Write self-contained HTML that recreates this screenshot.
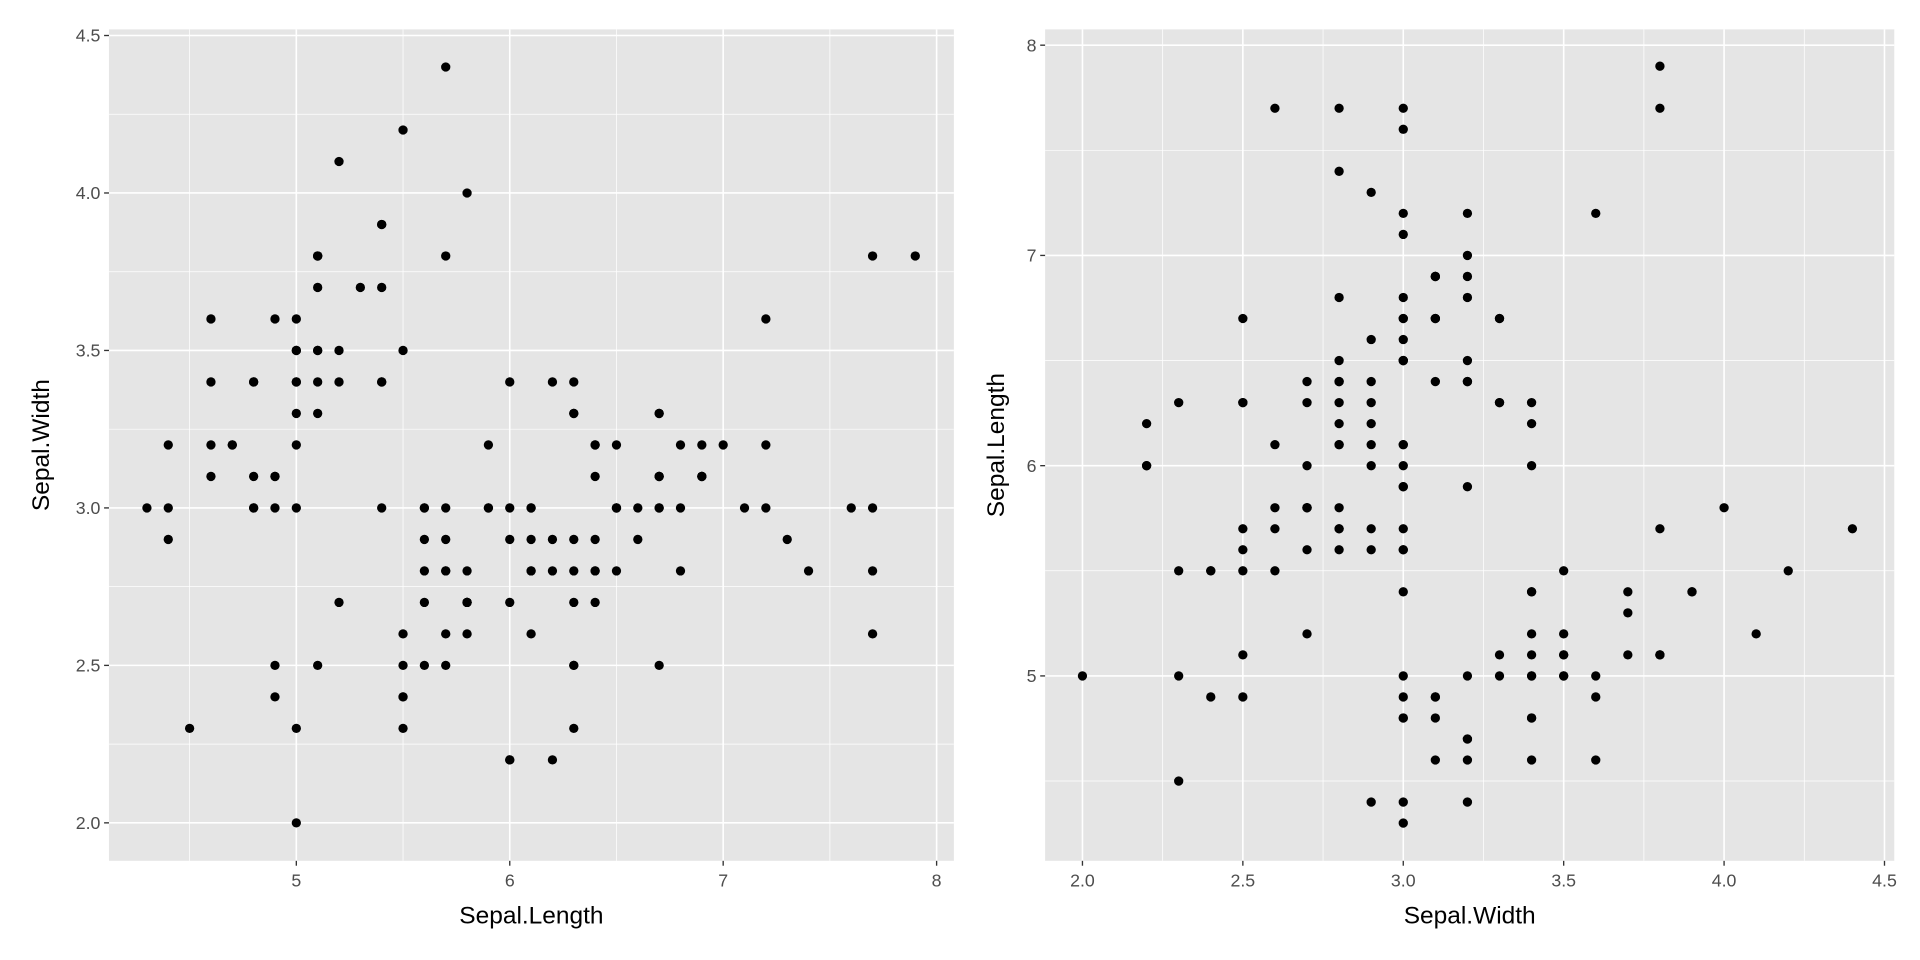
<!DOCTYPE html>
<html><head><meta charset="utf-8"><style>html,body{margin:0;padding:0;background:#fff}svg{display:block}text{font-family:"Liberation Sans",sans-serif}</style></head>
<body>
<svg id="s" width="1920" height="960" viewBox="0 0 1568 784" xmlns="http://www.w3.org/2000/svg"></svg>
<script>
const d="5.1,3.5;4.9,3.0;4.7,3.2;4.6,3.1;5.0,3.6;5.4,3.9;4.6,3.4;5.0,3.4;4.4,2.9;4.9,3.1;5.4,3.7;4.8,3.4;4.8,3.0;4.3,3.0;5.8,4.0;5.7,4.4;5.4,3.9;5.1,3.5;5.7,3.8;5.1,3.8;5.4,3.4;5.1,3.7;4.6,3.6;5.1,3.3;4.8,3.4;5.0,3.0;5.0,3.4;5.2,3.5;5.2,3.4;4.7,3.2;4.8,3.1;5.4,3.4;5.2,4.1;5.5,4.2;4.9,3.1;5.0,3.2;5.5,3.5;4.9,3.6;4.4,3.0;5.1,3.4;5.0,3.5;4.5,2.3;4.4,3.2;5.0,3.5;5.1,3.8;4.8,3.0;5.1,3.8;4.6,3.2;5.3,3.7;5.0,3.3;7.0,3.2;6.4,3.2;6.9,3.1;5.5,2.3;6.5,2.8;5.7,2.8;6.3,3.3;4.9,2.4;6.6,2.9;5.2,2.7;5.0,2.0;5.9,3.0;6.0,2.2;6.1,2.9;5.6,2.9;6.7,3.1;5.6,3.0;5.8,2.7;6.2,2.2;5.6,2.5;5.9,3.2;6.1,2.8;6.3,2.5;6.1,2.8;6.4,2.9;6.6,3.0;6.8,2.8;6.7,3.0;6.0,2.9;5.7,2.6;5.5,2.4;5.5,2.4;5.8,2.7;6.0,2.7;5.4,3.0;6.0,3.4;6.7,3.1;6.3,2.3;5.6,3.0;5.5,2.5;5.5,2.6;6.1,3.0;5.8,2.6;5.0,2.3;5.6,2.7;5.7,3.0;5.7,2.9;6.2,2.9;5.1,2.5;5.7,2.8;6.3,3.3;5.8,2.7;7.1,3.0;6.3,2.9;6.5,3.0;7.6,3.0;4.9,2.5;7.3,2.9;6.7,2.5;7.2,3.6;6.5,3.2;6.4,2.7;6.8,3.0;5.7,2.5;5.8,2.8;6.4,3.2;6.5,3.0;7.7,3.8;7.7,2.6;6.0,2.2;6.9,3.2;5.6,2.8;7.7,2.8;6.3,2.7;6.7,3.3;7.2,3.2;6.2,2.8;6.1,3.0;6.4,2.8;7.2,3.0;7.4,2.8;7.9,3.8;6.4,2.8;6.3,2.8;6.1,2.6;7.7,3.0;6.3,3.4;6.4,3.1;6.0,3.0;6.9,3.1;6.7,3.1;6.9,3.1;5.8,2.7;6.8,3.2;6.7,3.3;6.7,3.0;6.3,2.5;6.5,3.0;6.2,3.4;5.9,3.0".split(";").map(p=>p.split(",").map(Number));
let o="";
function panel(P){
 const X=v=>P.x0+(v-P.xa)*P.xs, Y=v=>P.y0-(v-P.ya)*P.ys;
 o+=`<rect x="${P.L}" y="24" width="${P.R-P.L}" height="${703-24}" fill="#e5e5e5"/>`;
 P.xmin.forEach(v=>o+=`<line x1="${X(v)}" x2="${X(v)}" y1="24" y2="703" stroke="#fff" stroke-width="0.6"/>`);
 P.ymin.forEach(v=>o+=`<line y1="${Y(v)}" y2="${Y(v)}" x1="${P.L}" x2="${P.R}" stroke="#fff" stroke-width="0.6"/>`);
 P.xmaj.forEach(v=>{o+=`<line x1="${X(v)}" x2="${X(v)}" y1="24" y2="703" stroke="#fff" stroke-width="1.3"/><line x1="${X(v)}" x2="${X(v)}" y1="703" y2="707" stroke="#333" stroke-width="1.1"/><text x="${X(v)}" y="724" font-size="14.5" fill="#4d4d4d" text-anchor="middle">${P.xf(v)}</text>`});
 P.ymaj.forEach(v=>{o+=`<line y1="${Y(v)}" y2="${Y(v)}" x1="${P.L}" x2="${P.R}" stroke="#fff" stroke-width="1.3"/><line y1="${Y(v)}" y2="${Y(v)}" x1="${P.L-4}" x2="${P.L}" stroke="#333" stroke-width="1.1"/><text x="${P.L-7}" y="${Y(v)+5}" font-size="14.5" fill="#4d4d4d" text-anchor="end">${P.yf(v)}</text>`});
 d.forEach(p=>{const a=P.sw?[p[1],p[0]]:p;o+=`<circle cx="${X(a[0])}" cy="${Y(a[1])}" r="3.8" fill="#000"/>`});
 o+=`<text x="${(P.L+P.R)/2}" y="754" font-size="20" text-anchor="middle" fill="#000">${P.xt}</text>`;
 o+=`<text transform="translate(${P.tx},363.5) rotate(-90)" font-size="20" text-anchor="middle" fill="#000">${P.yt}</text>`;
}
panel({L:89,R:779,x0:242,xa:5,xs:174.3,y0:672,ya:2,ys:257.2,tx:40,
 xmaj:[5,6,7,8],xmin:[4.5,5.5,6.5,7.5],ymaj:[2,2.5,3,3.5,4,4.5],ymin:[2.25,2.75,3.25,3.75,4.25],
 xf:v=>v,yf:v=>v.toFixed(1),xt:"Sepal.Length",yt:"Sepal.Width",sw:false});
panel({L:853.5,R:1547,x0:884,xa:2,xs:262,y0:552,ya:5,ys:171.7,tx:820,
 xmaj:[2,2.5,3,3.5,4,4.5],xmin:[2.25,2.75,3.25,3.75,4.25],ymaj:[5,6,7,8],ymin:[4.5,5.5,6.5,7.5],
 xf:v=>v.toFixed(1),yf:v=>v,xt:"Sepal.Width",yt:"Sepal.Length",sw:true});
document.getElementById("s").innerHTML=o;
</script>
</body></html>
